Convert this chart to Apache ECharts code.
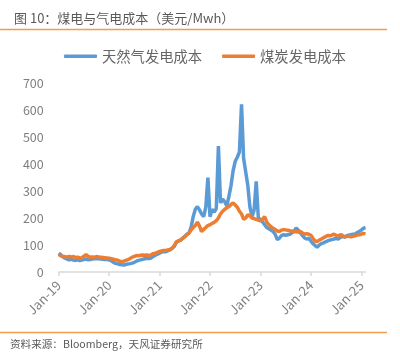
<!DOCTYPE html>
<html>
<head>
<meta charset="utf-8">
<script src="https://cdn.jsdelivr.net/npm/echarts@6/dist/echarts.min.js"></script>
<style>
html,body{margin:0;padding:0;background:#fff;}
#c{width:400px;height:359px;}
</style>
</head>
<body>
<div id="c"></div>
<script>
// Half-monthly dates, Jan 2019 to Feb 2025
const dates = [];
for (let y = 2019; y <= 2025; y++) {
  for (let m = 1; m <= 12; m++) {
    for (const d of [1, 16]) {
      if (y === 2025 && (m > 2 || (m === 2 && d === 16))) continue;
      dates.push(y + '-' + String(m).padStart(2, '0') + '-' + String(d).padStart(2, '0'));
    }
  }
}
const yearTicks = ['Jan-19','Jan-20','Jan-21','Jan-22','Jan-23','Jan-24','Jan-25'];
const gasCost = [
  70,64,56,51,48,45,47,44,43,45,42,44,46,48,45,46,48,50,49,50,48,47,46,46,
  45,42,36,32,30,28,27,26,28,30,31,33,36,40,43,45,47,49,51,50,52,58,62,66,
  70,74,76,75,79,82,88,95,110,115,118,125,132,140,145,165,205,232,242,230,215,205,240,350,
  205,232,222,235,466,256,270,260,245,280,320,375,410,425,445,621,420,370,320,240,205,230,336,200,
  195,185,175,165,160,155,150,140,120,125,135,138,136,138,140,145,150,163,155,145,135,126,122,125,
  115,105,98,92,100,105,108,112,115,118,120,122,125,122,128,131,130,134,137,138,140,140,146,150,
  155,162,165
];
const coalCost = [
  65,60,57,57,55,58,56,57,54,55,52,53,58,65,58,54,56,55,57,56,55,54,53,52,
  51,49,47,45,44,40,38,40,43,46,50,55,58,61,60,62,63,62,63,60,64,68,70,73,
  76,78,80,80,82,83,88,98,112,115,118,125,130,138,143,155,165,172,185,170,150,158,165,172,
  175,180,184,190,200,215,225,232,238,242,250,256,248,240,225,215,195,200,212,208,200,198,195,192,
  190,195,205,185,175,168,162,158,152,150,155,157,156,155,153,152,150,149,148,150,145,140,142,140,
  136,125,115,113,118,122,127,131,135,134,137,140,136,132,138,136,130,131,133,130,132,134,137,138,
  140,143,141
];

const chart = echarts.init(document.getElementById('c'), null, {renderer: 'canvas'});
const grey = '#595959';
const axisGrey = '#7f7f7f';
const font = '"Noto Sans CJK SC", "Noto Sans", sans-serif';
chart.setOption({
  animation: false,
  textStyle: {fontFamily: font},
  title: {
    text: '图 10：煤电与气电成本（美元/Mwh）',
    left: 9, top: 7,
    textStyle: {fontSize: 13, fontWeight: 'normal', color: grey, fontFamily: font}
  },
  graphic: [
    {type: 'line', shape: {x1: 0, y1: 29.5, x2: 387, y2: 29.5}, style: {stroke: '#F39B4E', lineWidth: 1.5}},
    {type: 'line', shape: {x1: 0, y1: 332.5, x2: 387, y2: 332.5}, style: {stroke: '#F39B4E', lineWidth: 1.5}},
    {type: 'text', left: 10, top: 339, style: {text: '资料来源：Bloomberg，天风证券研究所', fontSize: 10.6, fill: grey, fontFamily: font}}
  ],
  legend: {
    left: 59, top: 44,
    itemWidth: 33, itemHeight: 3.5, itemGap: 20,
    icon: 'roundRect',
    textStyle: {fontSize: 14.3, color: '#666666', fontFamily: font},
    data: ['天然气发电成本', '煤炭发电成本']
  },
  grid: {left: 58.7, right: 34.5, top: 83, bottom: 87, containLabel: false},
  xAxis: {
    type: 'category',
    data: dates,
    boundaryGap: false,
    axisLine: {lineStyle: {color: '#d9d9d9', width: 1.5}},
    axisTick: {
      length: 4,
      lineStyle: {color: '#d9d9d9', width: 1.5},
      interval: function (idx) { return idx % 24 === 0; }
    },
    axisLabel: {
      rotate: 45, fontSize: 13, color: axisGrey, margin: 11,
      interval: function (idx) { return idx % 24 === 0; },
      formatter: function (v, idx) { return yearTicks[idx / 24] || ''; }
    },
    splitLine: {show: false}
  },
  yAxis: {
    type: 'value', min: 0, max: 700, interval: 100,
    axisLine: {show: false}, axisTick: {show: false},
    splitLine: {show: false},
    axisLabel: {fontSize: 12.5, color: axisGrey, margin: 15}
  },
  series: [
    {name: '天然气发电成本', type: 'line', data: gasCost, showSymbol: false, symbol: 'none',
     lineStyle: {color: '#5B9BD5', width: 3.5}, itemStyle: {color: '#5B9BD5'}},
    {name: '煤炭发电成本', type: 'line', data: coalCost, showSymbol: false, symbol: 'none',
     lineStyle: {color: '#ED7D31', width: 3.5}, itemStyle: {color: '#ED7D31'}}
  ]
});
</script>
</body>
</html>
